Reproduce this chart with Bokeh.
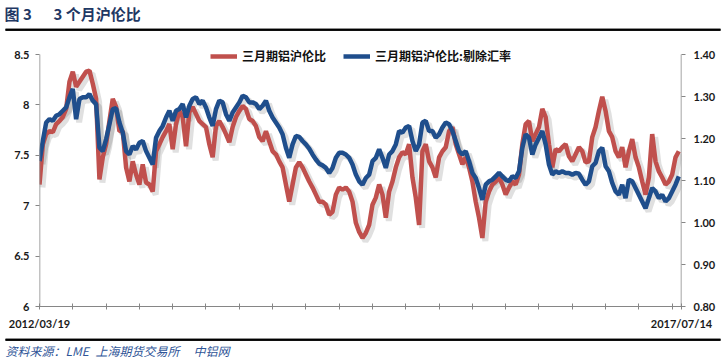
import numpy as np
from bokeh.plotting import figure
from bokeh.layouts import column
from bokeh.models import (Range1d, LinearAxis, FixedTicker, NumeralTickFormatter,
                          CustomJSTickFormatter, Legend, LegendItem, Label,
                          BoxAnnotation, ColumnDataSource)
from bokeh.embed import file_html
from bokeh.resources import INLINE

# ---------------- data ----------------
title_fig = "图 3"
title_text = "3 个月沪伦比"
source_parts = ["资料来源：LME", "上海期货交易所", "中铝网"]
series_names = ["三月期铝沪伦比", "三月期铝沪伦比:剔除汇率"]
date_start = "2012/03/19"
date_end = "2017/07/14"

# 三月期铝沪伦比 (left axis)
red = [
    7.21, 7.61, 7.71, 7.74, 7.73, 7.81, 7.84, 7.88, 7.96, 8.23,
    8.33, 8.18, 8.23, 8.28, 8.33, 8.34, 8.21, 8.06, 7.26, 7.48,
    7.61, 7.84, 8.06, 7.98, 7.74, 7.74, 7.38, 7.24, 7.44, 7.31,
    7.21, 7.41, 7.23, 7.21, 7.14, 7.54, 7.61, 7.68, 7.74, 7.81,
    7.56, 7.81, 7.94, 7.88, 7.59, 7.93, 7.98,
    7.91, 7.84, 7.81, 7.78, 7.61, 7.48, 7.79, 7.84, 7.78, 7.71,
    7.63, 7.78, 7.88, 7.94, 7.99, 7.96, 7.86, 7.84, 7.79, 7.68,
    7.64, 7.74, 7.64, 7.54, 7.51, 7.44, 7.38, 7.21, 7.04, 7.21,
    7.38, 7.43, 7.38, 7.31, 7.24, 7.18, 7.11, 7.04, 7.04, 7.01,
    6.91, 6.94, 7.11, 7.18, 7.16, 7.18, 7.14, 7.04,
    6.83, 6.74, 6.68, 6.73, 6.81, 7.01, 7.08, 7.21, 7.11, 6.88,
    7.14, 7.24, 7.38, 7.48, 7.53, 7.51, 7.61, 7.28, 7.08, 6.81,
    7.54, 7.61, 7.44, 7.38, 7.28, 7.48, 7.54, 7.58, 7.74, 7.78,
    7.61, 7.51, 7.41, 7.48, 7.38, 7.24, 7.04, 6.88, 6.68, 7.04,
    7.14, 7.21, 7.24, 7.28, 7.21, 7.11, 7.18, 7.24,
    7.21, 7.31, 7.61, 7.81, 7.84, 7.64, 7.71, 7.78, 7.96, 7.88,
    7.61, 7.38, 7.56, 7.54, 7.58, 7.61, 7.49, 7.44, 7.51, 7.58,
    7.54, 7.43, 7.44, 7.68, 7.78, 7.94, 8.08, 7.94, 7.74, 7.68,
    7.54, 7.48, 7.58, 7.38, 7.54, 7.66, 7.48, 7.38, 7.24, 7.11,
    7.28, 7.71, 7.44, 7.34, 7.28, 7.21, 7.24, 7.31, 7.48, 7.54,
]

# 三月期铝沪伦比:剔除汇率 (right axis)
blue = [
    1.146, 1.194, 1.238, 1.246, 1.242, 1.254, 1.258, 1.266, 1.274, 1.298,
    1.318, 1.246, 1.294, 1.298, 1.298, 1.306, 1.290, 1.282, 1.178, 1.170,
    1.198, 1.234, 1.270, 1.272, 1.238, 1.214, 1.170, 1.162, 1.182, 1.174,
    1.190, 1.194, 1.170, 1.154, 1.138, 1.202, 1.218, 1.230, 1.250, 1.266,
    1.242, 1.266, 1.270, 1.282, 1.250, 1.278, 1.294,
    1.298, 1.282, 1.290, 1.274, 1.250, 1.230, 1.270, 1.290, 1.286, 1.258,
    1.242, 1.262, 1.274, 1.286, 1.302, 1.298, 1.286, 1.286, 1.282, 1.270,
    1.278, 1.290, 1.266, 1.250, 1.238, 1.226, 1.210, 1.178, 1.154, 1.186,
    1.206, 1.204, 1.194, 1.186, 1.176, 1.162, 1.150, 1.140, 1.136, 1.130,
    1.118, 1.130, 1.154, 1.166, 1.166, 1.162, 1.154, 1.138,
    1.114, 1.098, 1.090, 1.106, 1.114, 1.146, 1.154, 1.174, 1.154, 1.130,
    1.162, 1.170, 1.186, 1.218, 1.214, 1.226, 1.230, 1.194, 1.170, 1.186,
    1.238, 1.242, 1.218, 1.218, 1.202, 1.210, 1.226, 1.238, 1.234, 1.218,
    1.194, 1.170, 1.162, 1.170, 1.146, 1.118, 1.106, 1.082, 1.054, 1.090,
    1.098, 1.102, 1.110, 1.118, 1.110, 1.102, 1.098, 1.110,
    1.106, 1.122, 1.178, 1.210, 1.202, 1.162, 1.186, 1.202, 1.218, 1.186,
    1.138, 1.114, 1.122, 1.118, 1.122, 1.118, 1.118, 1.114, 1.118, 1.116,
    1.102, 1.090, 1.098, 1.134, 1.142, 1.170, 1.178, 1.134, 1.122, 1.094,
    1.074, 1.066, 1.090, 1.058, 1.102, 1.098, 1.082, 1.066, 1.050, 1.034,
    1.058, 1.082, 1.074, 1.058, 1.066, 1.050, 1.058, 1.074, 1.090, 1.110,
]

left_ticks = [6, 6.5, 7, 7.5, 8, 8.5]
right_ticks = [0.8, 0.9, 1.0, 1.1, 1.2, 1.3, 1.4]

# ---------------- styling / layout ----------------
RED = "#c0504d"
BLUE = "#1f4e8c"
NAVY = "#1f3864"
AXIS_GREY = "#868686"
FONT = "Lato"
CJK = "Noto Sans CJK SC"

W = 724
TOP_H, MAIN_H, BOT_H = 31, 301, 26
FRAME_L, FRAME_R = 39, 681
FRAME_TOP_PAD = 10         # frame extends this many px above the 8.5 / 1.40 line
AX_TOP_Y, FRAME_BOT_Y = 54, 306   # absolute page px of top tick and bottom of frame
FRAME_TOP_Y = AX_TOP_Y - FRAME_TOP_PAD
AX_PX = FRAME_BOT_Y - AX_TOP_Y    # px between the lowest and highest tick

n = len(red)
idx = np.arange(n)
x_end = (n - 1) + 0.8
src = ColumnDataSource(dict(x=idx, red=red, blue=blue))

lo, hi = left_ticks[0], left_ticks[-1]
rlo, rhi = right_ticks[0], right_ticks[-1]
ext = FRAME_TOP_PAD / AX_PX
y_top = hi + (hi - lo) * ext
r_top = rhi + (rhi - rlo) * ext


def strip(h):
    f = figure(width=W, height=h, output_backend="svg", toolbar_location=None,
               title=None, x_range=Range1d(0, W), y_range=Range1d(0, h),
               x_axis_type=None, y_axis_type=None, min_border=0, frame_align=False)
    f.outline_line_color = None
    f.grid.visible = False
    return f


def rule(f, y_from_top, h):
    yc = h - y_from_top
    f.add_layout(BoxAnnotation(left=5, right=720, bottom=yc - 1, top=yc + 1,
                               fill_color="black", fill_alpha=1, line_color=None))
    f.segment(x0=[5], y0=[yc], x1=[720], y1=[yc], line_color="black", line_width=2)


# ---------------- top strip: title + rule ----------------
top = strip(TOP_H)
top.add_layout(Label(x=4, y=TOP_H - 12.5, text=title_fig, text_font=CJK,
                     text_font_style="bold", text_font_size="15px",
                     text_color=NAVY, text_baseline="middle"))
top.add_layout(Label(x=53, y=TOP_H - 12.5, text=title_text, text_font=CJK,
                     text_font_style="bold", text_font_size="15px",
                     text_color=NAVY, text_baseline="middle"))
rule(top, 29.3, TOP_H)

# ---------------- main chart ----------------
p = figure(width=W, height=MAIN_H, output_backend="svg", toolbar_location=None,
           x_range=Range1d(0, x_end), y_range=Range1d(lo, y_top),
           min_border_left=FRAME_L, min_border_right=W - FRAME_R,
           min_border_top=FRAME_TOP_Y - TOP_H,
           min_border_bottom=TOP_H + MAIN_H - FRAME_BOT_Y, frame_align=False)
p.outline_line_color = None
p.grid.visible = False

p.extra_y_ranges = {
    "right": Range1d(rlo, r_top),
    "right_sh": Range1d(rlo + 0.0075, r_top + 0.0075),
    "left_sh": Range1d(lo + 0.03, y_top + 0.03),
}
p.extra_x_ranges = {"x_sh": Range1d(-0.9, x_end - 0.9)}

# drop shadows
p.line("x", "red", source=src, line_color="black", line_alpha=0.12, line_width=6,
       x_range_name="x_sh", y_range_name="left_sh")
p.line("x", "blue", source=src, line_color="black", line_alpha=0.12, line_width=6,
       x_range_name="x_sh", y_range_name="right_sh")

r_red = p.line("x", "red", source=src, line_color=RED, line_width=4.5)
r_blue = p.line("x", "blue", source=src, line_color=BLUE, line_width=4.5,
                y_range_name="right")

# axis lines that stop at the top tick
p.segment(x0=[0, x_end], y0=[lo, lo], x1=[0, x_end], y1=[hi, hi],
          line_color=AXIS_GREY, line_width=1.5)

xa = p.xaxis[0]
xa.ticker = FixedTicker(ticks=list(range(0, n, 10)) + [x_end])
xa.formatter = CustomJSTickFormatter(args=dict(a=date_start, b=date_end), code="""
    if (index == 0) return a;
    if (index == ticks.length - 1) return b;
    return "";
""")
ya = p.yaxis[0]
ya.ticker = FixedTicker(ticks=left_ticks)
ya.formatter = NumeralTickFormatter(format="0.[0]")
ra = LinearAxis(y_range_name="right", ticker=FixedTicker(ticks=right_ticks),
                formatter=NumeralTickFormatter(format="0.00"))
p.add_layout(ra, "right")

for ax in (xa, ya, ra):
    ax.axis_line_color = None
    ax.major_tick_line_color = AXIS_GREY
    ax.minor_tick_line_color = None
    ax.major_tick_out = 4
    ax.major_tick_in = 0
    ax.major_label_text_font = FONT
    ax.major_label_text_font_style = "bold"
    ax.major_label_text_font_size = "11px"
    ax.major_label_text_color = "#1a1a1a"
xa.axis_line_color = AXIS_GREY
ya.major_label_standoff = 6
ra.major_label_standoff = 8
xa.major_label_standoff = 7
xa.major_tick_in = 3
xa.major_tick_out = 3

# legend: location is the bottom-left corner, measured from the frame's bottom-left
legend_bottom_y = 64
legend = Legend(items=[LegendItem(label=series_names[0], renderers=[r_red]),
                       LegendItem(label=series_names[1], renderers=[r_blue])],
                orientation="horizontal",
                location=(210 - FRAME_L, FRAME_BOT_Y - legend_bottom_y),
                border_line_color=None, background_fill_alpha=0,
                padding=0, margin=0, spacing=17, glyph_width=27, glyph_height=12,
                label_height=12, label_standoff=5,
                label_text_font=CJK, label_text_font_style="bold",
                label_text_font_size="12px", label_text_color="#111111")
p.add_layout(legend)

# ---------------- bottom strip: rule + source ----------------
bot = strip(BOT_H)
bot_top_y = TOP_H + MAIN_H
rule(bot, 339.3 - bot_top_y, BOT_H)
for txt, x0 in zip(source_parts, [5, 95, 193]):
    bot.add_layout(Label(x=x0, y=BOT_H - (349.5 - bot_top_y), text=txt, text_font=CJK,
                         text_font_style="italic", text_font_size="12px",
                         text_color="#2f5597", text_baseline="middle"))

layout = column(top, p, bot, spacing=0)
open("out.html", "w").write(file_html(layout, INLINE))
